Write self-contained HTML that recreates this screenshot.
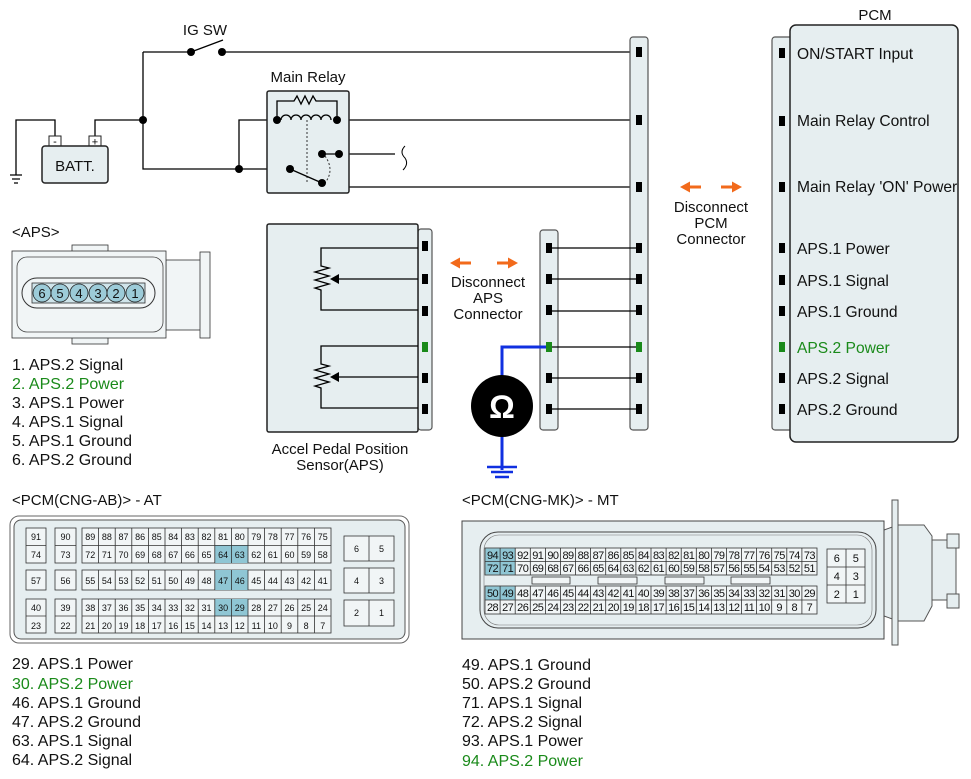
<!DOCTYPE html>
<html><head><meta charset="utf-8"><style>
html,body{margin:0;padding:0;background:#fff;}
svg{display:block;font-family:"Liberation Sans",Arial,sans-serif;}
.w{stroke:#000;stroke-width:1.3;fill:none}
.box{fill:#e6eef0;stroke:#222;stroke-width:1.5}
.strip{fill:#e6eef0;stroke:#555;stroke-width:1.2}
.l{font-size:15px;fill:#111}
.L{font-size:16px;fill:#111}
.P{font-size:15.6px;fill:#111}
.g{fill:#1a8a1a}
.a text{font-size:9px;text-anchor:middle;fill:#111}
.m text{font-size:11px;text-anchor:middle;fill:#111;letter-spacing:-0.6px}
.cell{fill:#f1f5f6;stroke:#333;stroke-width:0.8}
.hl{fill:#8fc6d4}
</style></head><body>
<svg width="971" height="779" viewBox="0 0 971 779" xmlns="http://www.w3.org/2000/svg">
<!-- top circuit -->
<text x="205" y="35" class="l" text-anchor="middle" font-size="14">IG SW</text>
<path class="w" d="M143 52H191M222 52H639M191 52L223 40M143 52V169H290M143 120H95V136M55 136V120H16V175M10 175h12M12 179h8M14 183h4M239 169V120H277M337 120H639M339 154V187H639M339 154H395"/>
<path d="M405 146q-6 6 0 12q4 6 -2 12" fill="none" stroke="#000" stroke-width="1"/>
<circle cx="191" cy="52" r="4"/><circle cx="222" cy="52" r="4"/><circle cx="143" cy="120" r="4"/><circle cx="239" cy="169" r="4"/>
<rect x="49" y="136" width="12" height="11" fill="#fff" stroke="#222"/><text x="55" y="145" font-size="11" text-anchor="middle">-</text>
<rect x="89" y="136" width="12" height="11" fill="#fff" stroke="#222"/><text x="95" y="145.5" font-size="11" text-anchor="middle">+</text>
<rect x="42" y="146" width="66" height="37" rx="3" class="box" stroke-width="1"/>
<text x="75" y="171" class="l" text-anchor="middle">BATT.</text>
<text x="308" y="82" class="l" text-anchor="middle" font-size="14">Main Relay</text>
<rect x="267" y="91" width="82" height="102" rx="2" class="box"/>
<path class="w" d="M277 120V101H294l3-5 4 8 4-8 4 8 4-8 3 5H337V120" stroke-width="1"/>
<path class="w" d="M281 120a5 5 0 0 1 10 0a5 5 0 0 1 10 0a5 5 0 0 1 10 0a5 5 0 0 1 10 0a5 5 0 0 1 10 0"/>
<path d="M307 120V183" stroke="#333" stroke-dasharray="2 2" fill="none"/>
<path d="M290 169L322 183" stroke="#000" stroke-width="1.3"/>
<path d="M325 156q10 14 0 27" stroke="#333" stroke-dasharray="2 2" fill="none"/>
<path class="w" d="M322 154H339"/>
<circle cx="277" cy="120" r="4"/><circle cx="337" cy="120" r="4"/><circle cx="290" cy="169" r="4"/><circle cx="322" cy="183" r="4"/><circle cx="322" cy="154" r="4"/><circle cx="339" cy="154" r="4"/>

<!-- right connector strips -->
<rect x="630" y="37" width="18" height="393" rx="3" class="strip"/>
<rect x="540" y="230" width="18" height="200" rx="3" class="strip"/>
<path class="w" d="M549 248H639M549 279H639M549 311H639M549 347H639M549 378H639M549 409H639" stroke-width="1"/>
<g fill="#000">
<rect x="636" y="47" width="6" height="10"/><rect x="636" y="115" width="6" height="10"/><rect x="636" y="182" width="6" height="10"/>
<rect x="636" y="243" width="6" height="10"/><rect x="636" y="274" width="6" height="10"/><rect x="636" y="305" width="6" height="10"/>
<rect x="636" y="373" width="6" height="10"/><rect x="636" y="404" width="6" height="10"/>
<rect x="546" y="243" width="6" height="10"/><rect x="546" y="274" width="6" height="10"/><rect x="546" y="305" width="6" height="10"/>
<rect x="546" y="373" width="6" height="10"/><rect x="546" y="404" width="6" height="10"/>
</g>
<rect x="636" y="342" width="6" height="10" fill="#1a8a1a"/>
<!-- PCM -->
<text x="875" y="20" class="l" text-anchor="middle">PCM</text>
<rect x="772" y="37" width="22" height="393" rx="3" class="strip"/>
<rect x="790" y="25" width="168" height="417" rx="6" class="box"/>
<g fill="#000"><rect x="779" y="48" width="6" height="10"/><rect x="779" y="116" width="6" height="10"/><rect x="779" y="182" width="6" height="10"/><rect x="779" y="243" width="6" height="10"/><rect x="779" y="275" width="6" height="10"/><rect x="779" y="306" width="6" height="10"/><rect x="779" y="373" width="6" height="10"/><rect x="779" y="404" width="6" height="10"/></g>
<rect x="779" y="342" width="6" height="10" fill="#1a8a1a"/>
<g class="P"><text x="797" y="59">ON/START Input</text><text x="797" y="126">Main Relay Control</text><text x="797" y="192">Main Relay 'ON' Power</text><text x="797" y="254">APS.1 Power</text><text x="797" y="286">APS.1 Signal</text><text x="797" y="317">APS.1 Ground</text><text x="797" y="353" class="g">APS.2 Power</text><text x="797" y="384">APS.2 Signal</text><text x="797" y="415">APS.2 Ground</text></g>
<!-- disconnect arrows -->
<g fill="#f26a1b"><path d="M680 187l10-5.5v4h11v3h-11v4z"/><path d="M742 187l-10-5.5v4h-11v3h11v4z"/>
<path d="M450 263l10-5.5v4h11v3h-11v4z"/><path d="M518 263l-10-5.5v4h-11v3h11v4z"/></g>
<g class="l" text-anchor="middle" font-size="14"><text x="711" y="212">Disconnect</text><text x="711" y="228">PCM</text><text x="711" y="244">Connector</text>
<text x="488" y="287">Disconnect</text><text x="488" y="303">APS</text><text x="488" y="319">Connector</text></g>
<!-- ohm -->
<path d="M549 347H502V470" stroke="#1030e0" stroke-width="3" fill="none"/>
<path d="M487 467h30M491 472h22M495 477h14" stroke="#1030e0" stroke-width="2.5"/>
<circle cx="502" cy="406" r="31" fill="#000"/>
<text x="502" y="418" font-size="32" font-weight="bold" fill="#fff" text-anchor="middle">Ω</text>
<rect x="546" y="342" width="6" height="10" fill="#1a8a1a"/>
<!-- APS sensor -->
<rect x="418" y="229" width="14" height="201" rx="3" class="strip"/>
<rect x="267" y="224" width="151" height="208" rx="2" class="box"/>
<g fill="#000"><rect x="422" y="241" width="6" height="10"/><rect x="422" y="274" width="6" height="10"/><rect x="422" y="306" width="6" height="10"/><rect x="422" y="373" width="6" height="10"/><rect x="422" y="404" width="6" height="10"/></g>
<rect x="422" y="342" width="6" height="10" fill="#1a8a1a"/>
<path class="w" stroke-width="1" d="M418 248H321V266l8 2-14 4 14 4-14 4 14 4-14 4 6 2V310H418M418 279H338M418 346H321V364l8 2-14 4 14 4-14 4 14 4-14 4 6 2V408H418M418 377H338"/>
<path d="M330 279l9-5v10z M330 377l9-5v10z"/>
<text x="340" y="454" class="l" text-anchor="middle" font-size="14">Accel Pedal Position</text>
<text x="340" y="470" class="l" text-anchor="middle" font-size="14">Sensor(APS)</text>
<!-- APS connector drawing -->
<text x="12" y="237" class="l">&lt;APS&gt;</text>
<rect x="72" y="245" width="36" height="8" class="cell"/><rect x="72" y="336" width="36" height="8" class="cell"/>
<rect x="166" y="260" width="35" height="70" class="cell"/>
<rect x="200" y="252" width="10" height="86" class="cell"/>
<rect x="12" y="251" width="154" height="87" class="cell" stroke-width="1"/>
<rect x="17" y="257" width="146" height="75" rx="10" fill="none" stroke="#444" stroke-width="0.8"/>
<rect x="22" y="278" width="133" height="30" rx="15" fill="#f1f5f6" stroke="#333"/>
<rect x="32" y="283" width="113" height="20" fill="#cfe4ea" stroke="#333" stroke-width="0.8"/>
<g fill="#9ccbd8" stroke="#222" stroke-width="0.8"><circle cx="42" cy="293" r="9"/><circle cx="60" cy="293" r="9"/><circle cx="79" cy="293" r="9"/><circle cx="98" cy="293" r="9"/><circle cx="116" cy="293" r="9"/><circle cx="135" cy="293" r="9"/></g>
<g font-size="13" text-anchor="middle" fill="#111"><text x="42" y="298">6</text><text x="60" y="298">5</text><text x="79" y="298">4</text><text x="98" y="298">3</text><text x="116" y="298">2</text><text x="135" y="298">1</text></g>
<g class="L"><text x="12" y="370">1. APS.2 Signal</text><text x="12" y="389" class="g">2. APS.2 Power</text><text x="12" y="408">3. APS.1 Power</text><text x="12" y="427">4. APS.1 Signal</text><text x="12" y="446">5. APS.1 Ground</text><text x="12" y="465">6. APS.2 Ground</text></g>

<!-- AT connector -->
<text x="12" y="505" class="l">&lt;PCM(CNG-AB)&gt; - AT</text>
<rect x="10" y="516" width="399" height="127" rx="9" fill="#fff" stroke="#666"/>
<rect x="14" y="520" width="391" height="119" rx="7" fill="#e6eef0" stroke="#555"/>
<g>
<rect class="cell" x="26" y="528" width="20" height="35"/><rect class="cell" x="55" y="528" width="21" height="35"/><rect class="cell" x="82" y="528" width="249" height="35"/>
<rect class="cell" x="26" y="570" width="20" height="20"/><rect class="cell" x="55" y="570" width="21" height="20"/><rect class="cell" x="82" y="570" width="249" height="20"/>
<rect class="cell" x="26" y="599" width="20" height="34"/><rect class="cell" x="55" y="599" width="21" height="34"/><rect class="cell" x="82" y="599" width="249" height="34"/>
<rect class="hl" x="214.8" y="545" width="33.2" height="18"/><rect class="hl" x="214.8" y="570" width="33.2" height="20"/><rect class="hl" x="214.8" y="599" width="33.2" height="17"/>
<rect class="cell" x="344" y="536" width="50" height="25"/><rect class="cell" x="344" y="568" width="50" height="25"/><rect class="cell" x="344" y="600" width="50" height="26"/>
<path stroke="#333" stroke-width="0.8" d="M26 545.5H46M55 545.5H76M82 545.5H331M26 616H46M55 616H76M82 616H331M369 536V561M369 568V593M369 600V626
M98.6 528v35M115.2 528v35M131.8 528v35M148.4 528v35M165 528v35M181.6 528v35M198.2 528v35M214.8 528v35M231.4 528v35M248 528v35M264.6 528v35M281.2 528v35M297.8 528v35M314.4 528v35
M98.6 570v20M115.2 570v20M131.8 570v20M148.4 570v20M165 570v20M181.6 570v20M198.2 570v20M214.8 570v20M231.4 570v20M248 570v20M264.6 570v20M281.2 570v20M297.8 570v20M314.4 570v20
M98.6 599v34M115.2 599v34M131.8 599v34M148.4 599v34M165 599v34M181.6 599v34M198.2 599v34M214.8 599v34M231.4 599v34M248 599v34M264.6 599v34M281.2 599v34M297.8 599v34M314.4 599v34"/>
</g>
<g class="a">
<text x="36" y="540">91</text><text x="65.5" y="540">90</text><text x="36" y="558">74</text><text x="65.5" y="558">73</text>
<text x="36" y="584">57</text><text x="65.5" y="584">56</text>
<text x="36" y="611">40</text><text x="65.5" y="611">39</text><text x="36" y="629">23</text><text x="65.5" y="629">22</text>
<text x="90.3" y="540">89</text><text x="106.9" y="540">88</text><text x="123.5" y="540">87</text><text x="140.1" y="540">86</text><text x="156.7" y="540">85</text><text x="173.3" y="540">84</text><text x="189.9" y="540">83</text><text x="206.5" y="540">82</text><text x="223.1" y="540">81</text><text x="239.7" y="540">80</text><text x="256.3" y="540">79</text><text x="272.9" y="540">78</text><text x="289.5" y="540">77</text><text x="306.1" y="540">76</text><text x="322.7" y="540">75</text>
<text x="90.3" y="558">72</text><text x="106.9" y="558">71</text><text x="123.5" y="558">70</text><text x="140.1" y="558">69</text><text x="156.7" y="558">68</text><text x="173.3" y="558">67</text><text x="189.9" y="558">66</text><text x="206.5" y="558">65</text><text x="223.1" y="558">64</text><text x="239.7" y="558">63</text><text x="256.3" y="558">62</text><text x="272.9" y="558">61</text><text x="289.5" y="558">60</text><text x="306.1" y="558">59</text><text x="322.7" y="558">58</text>
<text x="90.3" y="584">55</text><text x="106.9" y="584">54</text><text x="123.5" y="584">53</text><text x="140.1" y="584">52</text><text x="156.7" y="584">51</text><text x="173.3" y="584">50</text><text x="189.9" y="584">49</text><text x="206.5" y="584">48</text><text x="223.1" y="584">47</text><text x="239.7" y="584">46</text><text x="256.3" y="584">45</text><text x="272.9" y="584">44</text><text x="289.5" y="584">43</text><text x="306.1" y="584">42</text><text x="322.7" y="584">41</text>
<text x="90.3" y="611">38</text><text x="106.9" y="611">37</text><text x="123.5" y="611">36</text><text x="140.1" y="611">35</text><text x="156.7" y="611">34</text><text x="173.3" y="611">33</text><text x="189.9" y="611">32</text><text x="206.5" y="611">31</text><text x="223.1" y="611">30</text><text x="239.7" y="611">29</text><text x="256.3" y="611">28</text><text x="272.9" y="611">27</text><text x="289.5" y="611">26</text><text x="306.1" y="611">25</text><text x="322.7" y="611">24</text>
<text x="90.3" y="629">21</text><text x="106.9" y="629">20</text><text x="123.5" y="629">19</text><text x="140.1" y="629">18</text><text x="156.7" y="629">17</text><text x="173.3" y="629">16</text><text x="189.9" y="629">15</text><text x="206.5" y="629">14</text><text x="223.1" y="629">13</text><text x="239.7" y="629">12</text><text x="256.3" y="629">11</text><text x="272.9" y="629">10</text><text x="289.5" y="629">9</text><text x="306.1" y="629">8</text><text x="322.7" y="629">7</text>
<text x="356.5" y="552">6</text><text x="381.5" y="552">5</text><text x="356.5" y="584">4</text><text x="381.5" y="584">3</text><text x="356.5" y="616">2</text><text x="381.5" y="616">1</text>
</g>
<g class="L"><text x="12" y="669">29. APS.1 Power</text><text x="12" y="689" class="g">30. APS.2 Power</text><text x="12" y="708">46. APS.1 Ground</text><text x="12" y="727">47. APS.2 Ground</text><text x="12" y="746">63. APS.1 Signal</text><text x="12" y="765">64. APS.2 Signal</text></g>

<!-- MT connector -->
<text x="462" y="505" class="l">&lt;PCM(CNG-MK)&gt; - MT</text>
<path d="M884 530L898 525H924L932 536V606L924 621H898L884 616Z" fill="#e6eef0" stroke="#555"/>
<rect x="932" y="540" width="24" height="60" fill="#e6eef0" stroke="#555"/>
<rect x="947" y="534" width="12" height="14" fill="#e6eef0" stroke="#555"/><rect x="947" y="594" width="12" height="14" fill="#e6eef0" stroke="#555"/>
<rect x="892" y="500" width="6" height="145" fill="#e6eef0" stroke="#555"/>
<rect x="462" y="521" width="422" height="118" fill="#e6eef0" stroke="#444"/>
<rect x="480" y="532" width="396" height="96" rx="18" fill="none" stroke="#444"/>
<rect x="484" y="535" width="388" height="90" rx="15" fill="none" stroke="#777" stroke-width="0.6"/>
<rect class="cell" x="485" y="548" width="332" height="27"/><rect class="cell" x="485" y="586" width="332" height="28"/>
<rect class="hl" x="485.5" y="548.5" width="29.7" height="26"/><rect class="hl" x="485.5" y="586.5" width="29.7" height="13.5"/>
<g fill="#f1f5f6" stroke="#333" stroke-width="0.8"><rect x="532" y="577" width="38" height="7"/><rect x="598" y="577" width="39" height="7"/><rect x="665" y="577" width="39" height="7"/><rect x="731" y="577" width="39" height="7"/></g>
<rect class="cell" x="827" y="549" width="38" height="54"/>
<path stroke="#333" stroke-width="0.8" d="M485 561.5H817M485 600H817M827 567H865M827 585H865M846 549V603
M500.1 548v27M515.2 548v27M530.3 548v27M545.4 548v27M560.5 548v27M575.5 548v27M590.6 548v27M605.7 548v27M620.8 548v27M635.9 548v27M651 548v27M666.1 548v27M681.2 548v27M696.3 548v27M711.4 548v27M726.4 548v27M741.5 548v27M756.6 548v27M771.7 548v27M786.8 548v27M801.9 548v27
M500.1 586v28M515.2 586v28M530.3 586v28M545.4 586v28M560.5 586v28M575.5 586v28M590.6 586v28M605.7 586v28M620.8 586v28M635.9 586v28M651 586v28M666.1 586v28M681.2 586v28M696.3 586v28M711.4 586v28M726.4 586v28M741.5 586v28M756.6 586v28M771.7 586v28M786.8 586v28M801.9 586v28"/>
<g class="m">
<text x="492.5" y="559">94</text><text x="507.6" y="559">93</text><text x="522.7" y="559">92</text><text x="537.8" y="559">91</text><text x="552.9" y="559">90</text><text x="568" y="559">89</text><text x="583.1" y="559">88</text><text x="598.1" y="559">87</text><text x="613.2" y="559">86</text><text x="628.3" y="559">85</text><text x="643.4" y="559">84</text><text x="658.5" y="559">83</text><text x="673.6" y="559">82</text><text x="688.7" y="559">81</text><text x="703.8" y="559">80</text><text x="718.9" y="559">79</text><text x="733.9" y="559">78</text><text x="749" y="559">77</text><text x="764.1" y="559">76</text><text x="779.2" y="559">75</text><text x="794.3" y="559">74</text><text x="809.4" y="559">73</text>
<text x="492.5" y="572">72</text><text x="507.6" y="572">71</text><text x="522.7" y="572">70</text><text x="537.8" y="572">69</text><text x="552.9" y="572">68</text><text x="568" y="572">67</text><text x="583.1" y="572">66</text><text x="598.1" y="572">65</text><text x="613.2" y="572">64</text><text x="628.3" y="572">63</text><text x="643.4" y="572">62</text><text x="658.5" y="572">61</text><text x="673.6" y="572">60</text><text x="688.7" y="572">59</text><text x="703.8" y="572">58</text><text x="718.9" y="572">57</text><text x="733.9" y="572">56</text><text x="749" y="572">55</text><text x="764.1" y="572">54</text><text x="779.2" y="572">53</text><text x="794.3" y="572">52</text><text x="809.4" y="572">51</text>
<text x="492.5" y="597">50</text><text x="507.6" y="597">49</text><text x="522.7" y="597">48</text><text x="537.8" y="597">47</text><text x="552.9" y="597">46</text><text x="568" y="597">45</text><text x="583.1" y="597">44</text><text x="598.1" y="597">43</text><text x="613.2" y="597">42</text><text x="628.3" y="597">41</text><text x="643.4" y="597">40</text><text x="658.5" y="597">39</text><text x="673.6" y="597">38</text><text x="688.7" y="597">37</text><text x="703.8" y="597">36</text><text x="718.9" y="597">35</text><text x="733.9" y="597">34</text><text x="749" y="597">33</text><text x="764.1" y="597">32</text><text x="779.2" y="597">31</text><text x="794.3" y="597">30</text><text x="809.4" y="597">29</text>
<text x="492.5" y="611">28</text><text x="507.6" y="611">27</text><text x="522.7" y="611">26</text><text x="537.8" y="611">25</text><text x="552.9" y="611">24</text><text x="568" y="611">23</text><text x="583.1" y="611">22</text><text x="598.1" y="611">21</text><text x="613.2" y="611">20</text><text x="628.3" y="611">19</text><text x="643.4" y="611">18</text><text x="658.5" y="611">17</text><text x="673.6" y="611">16</text><text x="688.7" y="611">15</text><text x="703.8" y="611">14</text><text x="718.9" y="611">13</text><text x="733.9" y="611">12</text><text x="749" y="611">11</text><text x="764.1" y="611">10</text><text x="779.2" y="611">9</text><text x="794.3" y="611">8</text><text x="809.4" y="611">7</text>
<text x="836.5" y="562">6</text><text x="855.5" y="562">5</text><text x="836.5" y="580">4</text><text x="855.5" y="580">3</text><text x="836.5" y="598">2</text><text x="855.5" y="598">1</text>
</g>
<g class="L"><text x="462" y="670">49. APS.1 Ground</text><text x="462" y="689">50. APS.2 Ground</text><text x="462" y="708">71. APS.1 Signal</text><text x="462" y="727">72. APS.2 Signal</text><text x="462" y="746">93. APS.1 Power</text><text x="462" y="766" class="g">94. APS.2 Power</text></g>
</svg>
</body></html>
